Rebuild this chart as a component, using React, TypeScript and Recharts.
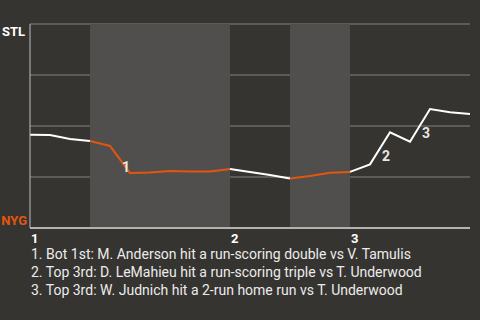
import {
  LineChart,
  Line,
  XAxis,
  YAxis,
  CartesianGrid,
  ReferenceArea,
  ReferenceDot,
} from "recharts";

// STL win probability, one value per plate appearance
const winProb = [
  45.7, 45.6, 43.6, 42.6, 40.2, 27.0, 27.2, 27.9, 27.7, 27.7, 28.9, 27.5,
  26.0, 24.3, 25.5, 27.1, 27.5, 31.2, 46.9, 42.3, 58.3, 56.7, 55.9,
];

// half-innings: [start, end, batting team]
const halfInnings: [number, number, "STL" | "NYG"][] = [
  [0, 3, "STL"],
  [3, 10, "NYG"],
  [10, 13, "STL"],
  [13, 16, "NYG"],
  [16, 22, "STL"],
];

const inningStarts = [0, 10, 16];
const inningLabels = ["1", "2", "3"];

// index of the plate appearance where each highlighted event happened
const eventIdx = [5, 18, 20];
const eventNotes = [
  "1. Bot 1st: M. Anderson hit a run-scoring double vs V. Tamulis",
  "2. Top 3rd: D. LeMahieu hit a run-scoring triple vs T. Underwood",
  "3. Top 3rd: W. Judnich hit a 2-run home run vs T. Underwood",
];

const BG = "#363430";
const BAND = "#504f4d";
const ORANGE = "#e4560f";
const FONT = "Roboto, 'Noto Sans', sans-serif";

const inHalf = (i: number, team: string) =>
  halfInnings.some(([s, e, t]) => t === team && i >= s && i <= e);

const data = winProb.map((p, i) => ({
  pa: i,
  stl: inHalf(i, "STL") ? p : null,
  nyg: inHalf(i, "NYG") ? p : null,
}));

function TeamTick(props: any) {
  const { y, payload } = props;
  if (payload.value === 100)
    return (
      <text x={25} y={y + 12} textAnchor="end" fill="#fff" fontSize={13} fontWeight="bold" fontFamily={FONT}>
        STL
      </text>
    );
  if (payload.value === 0)
    return (
      <text x={27} y={y - 3} textAnchor="end" fill={ORANGE} fontSize={13} fontWeight="bold" fontFamily={FONT}>
        NYG
      </text>
    );
  return null;
}

function InningTick(props: any) {
  const { x, y, payload } = props;
  const k = inningStarts.indexOf(payload.value);
  return (
    <text x={x + 1} y={y + 7} textAnchor="start" fill="#fff" fontSize={13} fontWeight="bold" fontFamily={FONT}>
      {inningLabels[k]}
    </text>
  );
}

export default function App() {
  return (
    <div style={{ position: "fixed", left: 0, top: 0, width: 480, height: 320, background: BG, fontFamily: FONT }}>
      <LineChart width={480} height={250} data={data} margin={{ top: 24, right: 10, left: 0, bottom: 2 }}>
        {halfInnings
          .filter((h) => h[2] === "NYG")
          .map(([s, e]) => (
            <ReferenceArea key={s} x1={s} x2={e} y1={0} y2={100} fill={BAND} fillOpacity={1} stroke="none" />
          ))}
        <CartesianGrid horizontal vertical={false} stroke="#83827f" strokeWidth={1} />
        <XAxis
          type="number"
          dataKey="pa"
          domain={[0, 22]}
          ticks={inningStarts}
          tick={<InningTick />}
          tickLine={false}
          axisLine={{ stroke: "#d0d0d0", strokeWidth: 1.5 }}
          height={20}
        />
        <YAxis
          type="number"
          domain={[0, 100]}
          ticks={[0, 25, 50, 75, 100]}
          tick={<TeamTick />}
          tickLine={false}
          axisLine={{ stroke: "#bdbdbd" }}
          width={30}
        />
        <Line type="linear" dataKey="stl" stroke="#ffffff" strokeWidth={2} dot={false} isAnimationActive={false} />
        <Line type="linear" dataKey="nyg" stroke={ORANGE} strokeWidth={2} dot={false} isAnimationActive={false} />
        {eventIdx.map((idx, k) => (
          <ReferenceDot
            key={k}
            x={idx - 0.5}
            y={(winProb[idx - 1] + winProb[idx]) / 2}
            r={0}
            stroke="none"
            fill="none"
            label={(p: any) => {
              const vb = p.viewBox || {};
              return (
                <text
                  x={vb.x + 6}
                  y={vb.y + 8}
                  textAnchor="middle"
                  dominantBaseline="central"
                  fill="#e6e6e6"
                  fontSize={14}
                  fontWeight="bold"
                  fontFamily={FONT}
                >
                  {k + 1}
                </text>
              );
            }}
          />
        ))}
      </LineChart>
      <div style={{ position: "absolute", left: 31, top: 247, color: "#ececec", fontSize: 14, lineHeight: "14px" }}>
        {eventNotes.map((n) => (
          <div key={n} style={{ whiteSpace: "nowrap", marginBottom: 4 }}>{n}</div>
        ))}
      </div>
    </div>
  );
}
